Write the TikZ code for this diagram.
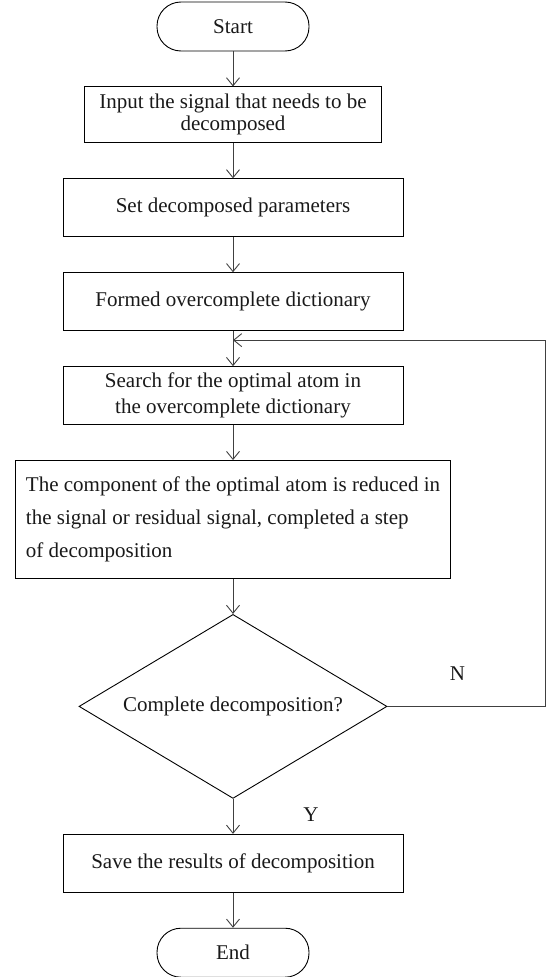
\documentclass[tikz,border=0pt]{standalone}
\usepackage{fontspec}
\setmainfont{Liberation Serif}
\usetikzlibrary{shapes.geometric, arrows.meta, positioning}

\begin{document}
\begin{tikzpicture}[
    x=1pt, y=1pt,
    node distance=35pt,
    every node/.style={font=\fontsize{21}{22}\selectfont, text=black!90},
    block/.style={rectangle, draw, line width=0.9pt, minimum width=340pt,
    minimum height=58pt, align=center, inner sep=4pt},
    term/.style={rectangle, draw, rounded corners=24pt, line width=0.9pt,
    minimum width=152pt, minimum height=49pt},
    decision/.style={diamond, draw, line width=0.9pt, aspect=1.67,
    minimum width=308pt, minimum height=184pt, inner sep=0pt},
    arrow/.style={-{Straight Barb[length=8pt, width=13pt]}, line width=0.9pt, draw=black!75}
]
\useasboundingbox (0,0) rectangle (547,-977);

% ---------------- MAIN FLOW ----------------
\node[term] (start) at (233,-26.5) {Start};

\node[block, minimum width=297pt, minimum height=56pt, below=of start] (input)
{Input the signal that needs to be\\decomposed};

\node[block, below=of input] (param)
{Set decomposed parameters};

\node[block, below=of param] (dict)
{Formed overcomplete dictionary};

\node[block, below=of dict, font=\fontsize{21}{26}\selectfont] (search)
{Search for the optimal atom in\\the overcomplete dictionary};

\node[block, below=of search, minimum width=435pt, minimum height=118pt,
align=left, font=\fontsize{21}{33}\selectfont] (reduce)
{The component of the optimal atom is reduced in\\the signal or residual signal, completed a step\\of decomposition};

\node[decision, below=of reduce] (check)
{Complete decomposition?};

\node[block, below=of check] (save)
{Save the results of decomposition};

\node[term, below=of save] (stop) {End};

\draw[arrow] (start)--(input);
\draw[arrow] (input)--(param);
\draw[arrow] (param)--(dict);
\draw[arrow] (dict)--(search);
\draw[arrow] (search)--(reduce);
\draw[arrow] (reduce)--(check);
\draw[arrow] (check)--(save);
\draw[arrow] (save)--(stop);

% ---------------- LOOP BACK ----------------
\coordinate[below=9pt of dict] (merge);
\draw[arrow] (check.east) -- ++(158,0) |- (merge);

% Labels
\node (no) at ([xshift=70pt, yshift=33pt]check.east) {N};
\node (yes) at ([xshift=78pt, yshift=-16pt]check.south) {Y};

\end{tikzpicture}
\end{document}
